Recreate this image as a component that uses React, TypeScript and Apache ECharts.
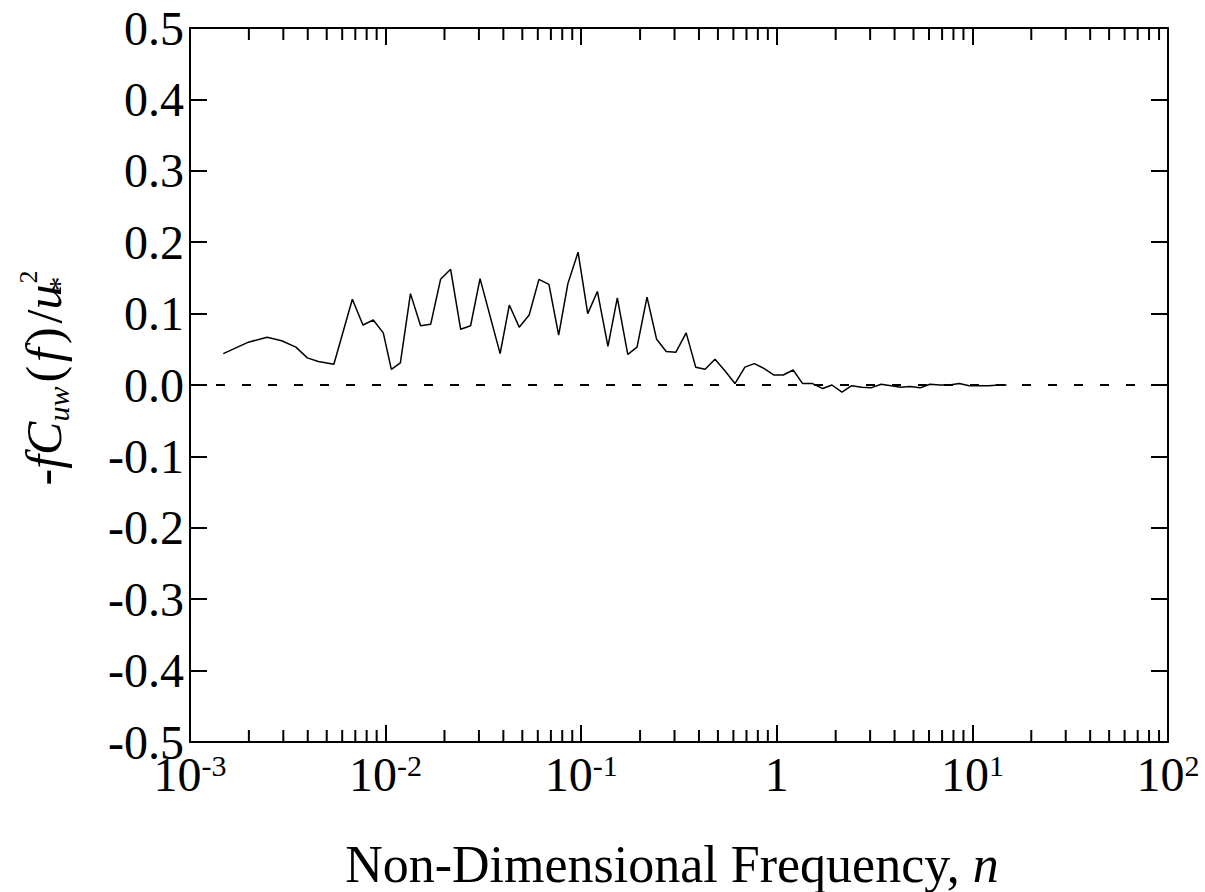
import React, { useEffect, useRef } from "react";
import * as echarts from "echarts";

// Non-dimensional frequency n
const freq = [
  0.00148, 0.00199, 0.00248, 0.00294, 0.00348, 0.00398, 0.00453, 0.00544, 0.00676, 0.00766,
  0.00865, 0.00973, 0.0107, 0.0119, 0.0134, 0.0151, 0.017, 0.0191, 0.0215, 0.0242,
  0.0272, 0.0304, 0.0385, 0.0429, 0.0482, 0.0542, 0.0608, 0.0684, 0.0767, 0.0855,
  0.0964, 0.108, 0.121, 0.137, 0.153, 0.173, 0.193, 0.217, 0.243, 0.272,
  0.305, 0.344, 0.385, 0.43, 0.483, 0.543, 0.611, 0.687, 0.767, 0.863,
  0.968, 1.079, 1.213, 1.355, 1.524, 1.718, 1.914, 2.153, 2.415, 2.716,
  3.034, 3.412, 3.837, 4.295, 4.797, 5.408, 6.067, 6.823, 7.621, 8.57,
  9.638, 10.84, 12.13, 13.65, 14.96,
];

// -f Cuw(f) / u*^2
const cospectrum = [
  0.044, 0.06, 0.067, 0.062, 0.053, 0.038, 0.033, 0.029, 0.12, 0.084,
  0.091, 0.073, 0.022, 0.031, 0.128, 0.083, 0.085, 0.148, 0.162, 0.078,
  0.083, 0.149, 0.044, 0.112, 0.081, 0.098, 0.148, 0.141, 0.07, 0.142,
  0.186, 0.1, 0.131, 0.054, 0.122, 0.043, 0.053, 0.123, 0.064, 0.047,
  0.046, 0.073, 0.025, 0.022, 0.036, 0.02, 0.002, 0.025, 0.03, 0.023,
  0.014, 0.014, 0.021, 0.002, 0.002, -0.005, 0.0, -0.01, -0.001, -0.003,
  -0.004, 0.001, -0.001, -0.003, -0.002, -0.004, 0.001, 0.0, 0.0, 0.002,
  -0.001, -0.001, -0.001, 0.0, 0.0,
];

// axis definitions
const xMin = 0.001;
const xMax = 100;
const yMin = -0.5;
const yMax = 0.5;
const yStep = 0.1;
const minorMultipliers = [2, 3, 4, 5, 6, 7, 8, 9];
const minorDecades = [0.001, 0.01, 0.1, 1, 10];

const FONT = "Liberation Serif";

export default function App() {
  const ref = useRef<HTMLDivElement>(null);

  useEffect(() => {
    if (!ref.current) return;
    const chart = echarts.init(ref.current, undefined, { renderer: "svg" });

    const lineData = freq.map((f, i) => [f, cospectrum[i]]);
    const minorTicks: number[][] = [];
    minorDecades.forEach((d) => minorMultipliers.forEach((m) => minorTicks.push([m * d, 0])));

    const xLabelFmt = (v: number) => {
      const e = Math.round(Math.log10(v));
      if (e === 0) return "{b|1}";
      return "{b|10}{s|" + e + "}";
    };
    const yLabelFmt = (v: number) => (Math.abs(v) < 1e-9 ? "0.0" : v.toFixed(1));

    const axisLine = { show: true, onZero: false, lineStyle: { color: "#000", width: 2 } };
    const majorTick = { show: true, inside: true, length: 17, lineStyle: { color: "#000", width: 2 } };

    const xBase = {
      type: "log" as const,
      logBase: 10,
      min: xMin,
      max: xMax,
      axisLine,
      axisTick: majorTick,
      splitLine: { show: false },
      minorTick: { show: false },
    };
    const yBase = {
      type: "value" as const,
      min: yMin,
      max: yMax,
      interval: yStep,
      axisLine,
      axisTick: majorTick,
      splitLine: { show: false },
    };

    chart.setOption({
      animation: false,
      backgroundColor: "#fff",
      grid: { left: 190, top: 28, right: 37, bottom: 150, containLabel: false },
      xAxis: [
        {
          ...xBase,
          position: "bottom",
          axisLabel: {
            show: true,
            margin: 8,
            showMinLabel: true,
            showMaxLabel: true,
            formatter: xLabelFmt,
            rich: {
              b: { fontFamily: FONT, fontSize: 48, color: "#000", lineHeight: 48, verticalAlign: "middle" },
              s: { fontFamily: FONT, fontSize: 30, color: "#000", lineHeight: 30, verticalAlign: "top" },
            },
          },
        },
        { ...xBase, position: "top", axisLabel: { show: false } },
      ],
      yAxis: [
        {
          ...yBase,
          position: "left",
          axisLabel: {
            show: true,
            margin: 6,
            showMinLabel: true,
            showMaxLabel: true,
            formatter: yLabelFmt,
            fontFamily: FONT,
            fontSize: 48,
            color: "#000",
          },
        },
        { ...yBase, position: "right", axisLabel: { show: false } },
      ],
      series: [
        {
          type: "line",
          xAxisIndex: 0,
          yAxisIndex: 0,
          data: lineData,
          showSymbol: false,
          symbol: "none",
          lineStyle: { color: "#000", width: 1.5 },
          z: 3,
          markLine: {
            silent: true,
            symbol: "none",
            label: { show: false },
            lineStyle: { color: "#000", width: 1.8, type: [9, 17] },
            data: [{ yAxis: 0 }],
          },
        },
        {
          type: "custom",
          xAxisIndex: 0,
          yAxisIndex: 0,
          data: minorTicks,
          silent: true,
          z: 4,
          renderItem: (_params: any, api: any) => {
            const v = api.value(0);
            const b = api.coord([v, yMin]);
            const t = api.coord([v, yMax]);
            return {
              type: "group",
              children: [
                { type: "line", shape: { x1: b[0], y1: b[1], x2: b[0], y2: b[1] - 12 }, style: { stroke: "#000", lineWidth: 2 } },
                { type: "line", shape: { x1: t[0], y1: t[1], x2: t[0], y2: t[1] + 12 }, style: { stroke: "#000", lineWidth: 2 } },
              ],
            };
          },
        },
      ],
      graphic: [
        {
          type: "text",
          x: 672,
          y: 864,
          style: {
            text: "{r|Non-Dimensional Frequency, }{i|n}",
            align: "center",
            verticalAlign: "middle",
            rich: {
              r: { fontFamily: FONT, fontSize: 52, lineHeight: 40, color: "#000" },
              i: { fontFamily: FONT, fontSize: 52, lineHeight: 40, fontStyle: "italic", color: "#000" },
            },
          },
        },
        {
          type: "text",
          x: 44,
          y: 378,
          rotation: Math.PI / 2,
          style: {
            text: "{r|-}{i|fC}{sub|uw}{p|(}{i|f}{p|)}{r|/}{i|u}{subz|*}{sup|2}",
            align: "center",
            verticalAlign: "middle",
            rich: {
              r: { fontFamily: FONT, fontSize: 50, lineHeight: 58, verticalAlign: "middle", color: "#000" },
              p: { fontFamily: FONT, fontSize: 50, lineHeight: 58, verticalAlign: "middle", color: "#000", padding: [0, 4, 0, 4] },
              i: { fontFamily: FONT, fontSize: 50, lineHeight: 58, fontStyle: "italic", verticalAlign: "middle", color: "#000" },
              sub: { fontFamily: FONT, fontSize: 30, lineHeight: 30, fontStyle: "italic", verticalAlign: "bottom", color: "#000" },
              subz: { fontFamily: FONT, fontSize: 30, lineHeight: 30, width: 1, verticalAlign: "bottom", color: "#000" },
              sup: { fontFamily: FONT, fontSize: 26, lineHeight: 26, verticalAlign: "top", color: "#000" },
            },
          },
        },
      ],
    });

    return () => chart.dispose();
  }, []);

  return <div ref={ref} style={{ position: "absolute", left: 0, top: 0, width: 1205, height: 892 }} />;
}
